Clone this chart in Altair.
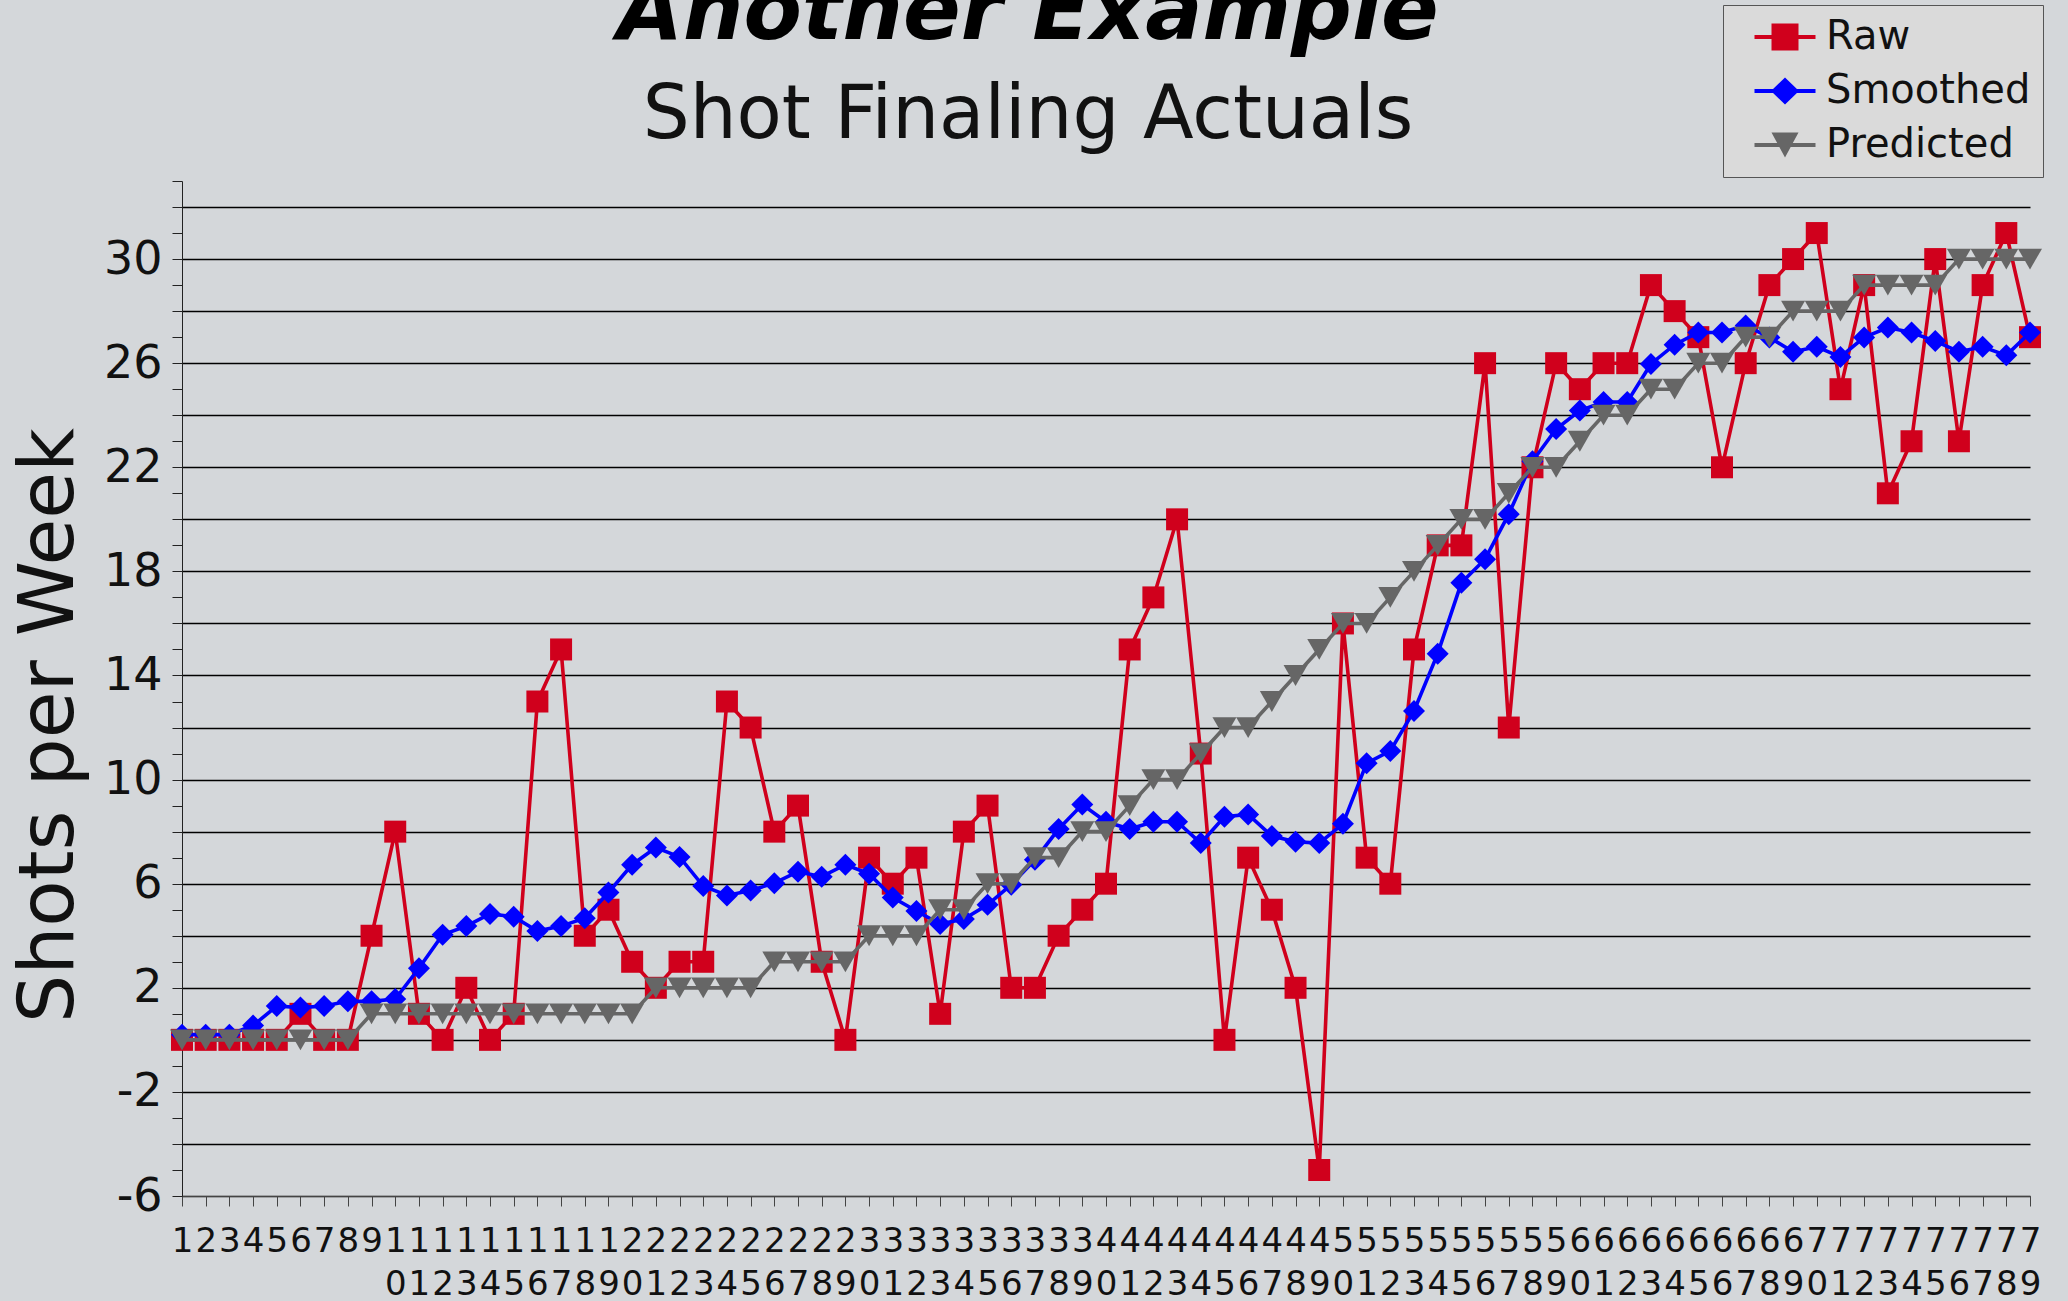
import altair as alt
import pandas as pd

# Weekly shot counts: raw actuals, smoothed trend and predicted finaling
weeks = list(range(1, 80))
raw = [0, 0, 0, 0, 0, 1, 0, 0, 4, 8,
       1, 0, 2, 0, 1, 13, 15, 4, 5, 3,
       2, 3, 3, 13, 12, 8, 9, 3, 0, 7,
       6, 7, 1, 8, 9, 2, 2, 4, 5, 6,
       15, 17, 20, 11, 0, 7, 5, 2, -5, 16,
       7, 6, 15, 19, 19, 26, 12, 22, 26, 25,
       26, 26, 29, 28, 27, 22, 26, 29, 30, 31,
       25, 29, 21, 23, 30, 23, 29, 31, 27]
smoothed = [0.2, 0.2, 0.2, 0.55, 1.3, 1.24, 1.3, 1.48, 1.48, 1.57,
            2.75, 4.04, 4.37, 4.84, 4.73, 4.18, 4.37, 4.67, 5.66, 6.73,
            7.39, 7.03, 5.91, 5.55, 5.74, 6.02, 6.46, 6.27, 6.73, 6.38,
            5.47, 4.95, 4.45, 4.64, 5.19, 5.96, 6.92, 8.1, 9.04, 8.38,
            8.1, 8.38, 8.38, 7.56, 8.57, 8.66, 7.83, 7.61, 7.56, 8.3,
            10.63, 11.1, 12.64, 14.84, 17.56, 18.47, 20.2, 22.23, 23.47, 24.18,
            24.51, 24.51, 25.97, 26.71, 27.18, 27.18, 27.45, 26.99, 26.44, 26.63,
            26.24, 26.99, 27.37, 27.18, 26.85, 26.44, 26.63, 26.3, 27.18]
predicted = [0, 0, 0, 0, 0, 0, 0, 0, 1, 1,
             1, 1, 1, 1, 1, 1, 1, 1, 1, 1,
             2, 2, 2, 2, 2, 3, 3, 3, 3, 4,
             4, 4, 5, 5, 6, 6, 7, 7, 8, 8,
             9, 10, 10, 11, 12, 12, 13, 14, 15, 16,
             16, 17, 18, 19, 20, 20, 21, 22, 22, 23,
             24, 24, 25, 25, 26, 26, 27, 27, 28, 28,
             28, 29, 29, 29, 29, 30, 30, 30, 30]

series_names = ["Raw", "Smoothed", "Predicted"]
series_values = [raw, smoothed, predicted]
series_colors = ["#d0001c", "#0000ff", "#666666"]
series_shapes = ["square", "diamond", "triangle-down"]
series_sizes = [484, 484, 576]

# Legend glyphs: a short line segment with the series marker on top
legend_line = "M-1.525,-0.1L1.525,-0.1L1.525,0.1L-1.525,0.1Z"
legend_paths = [
    legend_line + "M-0.675,-0.675L0.675,-0.675L0.675,0.675L-0.675,0.675Z",
    legend_line + "M0,-0.68L0.7,0L0,0.68L-0.7,0Z",
    legend_line + "M-0.675,-0.625L0.675,-0.625L0,0.625Z",
]

y_ticks = list(range(-6, 34))
font = "DejaVu Sans"

rows = []
for name, vals in zip(series_names, series_values):
    for w, v in zip(weeks, vals):
        rows.append({"week": w, "value": v, "series": name})
df = pd.DataFrame(rows)

x_enc = alt.X(
    "week:Q",
    title=None,
    scale=alt.Scale(domain=[1, 79], nice=False, zero=False),
    axis=alt.Axis(
        values=weeks,
        format="d",
        labelExpr="split(datum.label, '')",
        labelFont=font,
        labelFontSize=34,
        labelLineHeight=43,
        labelColor="#111111",
        labelOverlap=False,
        labelFlush=False,
        labelBound=False,
        labelPadding=18,
        tickSize=10,
        tickColor="#444444",
        domainColor="#444444",
        grid=False,
    ),
)

y_enc = alt.Y(
    "value:Q",
    title="Shots per Week",
    scale=alt.Scale(domain=[-6, 33], nice=False, zero=False),
    axis=alt.Axis(
        values=y_ticks,
        labelExpr="(datum.value + 6) % 4 === 0 ? '' + datum.value : ''",
        labelFont=font,
        labelFontSize=46,
        labelColor="#111111",
        labelPadding=10,
        labelOverlap=False,
        labelFlush=False,
        tickSize=10,
        tickColor="#222222",
        domainColor="#222222",
        grid=True,
        gridColor="#000000",
        gridWidth=1.3,
        gridOpacity={"condition": {"test": "datum.value % 2 === 0", "value": 1}, "value": 0},
        titleFont=font,
        titleFontSize=76,
        titleFontWeight="normal",
        titleColor="#111111",
        titleAngle=270,
        titleAlign="center",
        titleBaseline="alphabetic",
        titleX=-110,
        titleY=544,
    ),
)

base = alt.Chart(df)

layers = []
for name, color, shape, size in zip(series_names, series_colors, series_shapes, series_sizes):
    sub = base.transform_filter(alt.datum.series == name)
    layers.append(
        sub.mark_line(color=color, strokeWidth=3.6).encode(x=x_enc, y=y_enc)
    )
    layers.append(
        sub.mark_point(filled=True, opacity=1, color=color, shape=shape, size=size)
        .encode(x=x_enc, y=y_enc)
    )

legend = alt.Legend(
    orient="none",
    legendX=1541,
    legendY=-176,
    padding=12,
    fillColor="#dadada",
    strokeColor="#555555",
    labelFont=font,
    labelFontSize=40,
    labelColor="#111111",
    labelLimit=500,
    labelExpr="datum.label + '\u2003\u2002'",
    symbolSize=1600,
    symbolStrokeWidth=0,
    symbolOpacity=1,
    symbolOffset=30,
    labelOffset=21,
    rowPadding=14,
)

legend_layer = base.mark_point(filled=True, opacity=0).encode(
    x=x_enc,
    y=y_enc,
    color=alt.Color(
        "series:N",
        title=None,
        scale=alt.Scale(domain=series_names, range=series_colors),
        legend=legend,
    ),
    shape=alt.Shape(
        "series:N",
        title=None,
        scale=alt.Scale(domain=series_names, range=legend_paths),
        legend=legend,
    ),
)
layers.append(legend_layer)

chart = (
    alt.layer(*layers)
    .properties(
        width=1848,
        height=1015,
        autosize=alt.AutoSizeParams(type="none"),
        padding={"left": 182, "top": 181, "right": 38, "bottom": 105},
        title=alt.Title(
            text="Another Example",
            subtitle="Shot Finaling Actuals",
            font=font,
            fontSize=85,
            fontWeight="bold",
            fontStyle="italic",
            color="#000000",
            subtitleFont=font,
            subtitleFontSize=74,
            subtitleColor="#111111",
            anchor="middle",
            dx=-78,
            dy=176,
            offset=27,
            subtitlePadding=23,
        ),
    )
    .configure(background="#d4d7da")
    .configure_view(strokeWidth=0)
)

chart.save("out.html", embed_options={"renderer": "svg", "actions": False})
